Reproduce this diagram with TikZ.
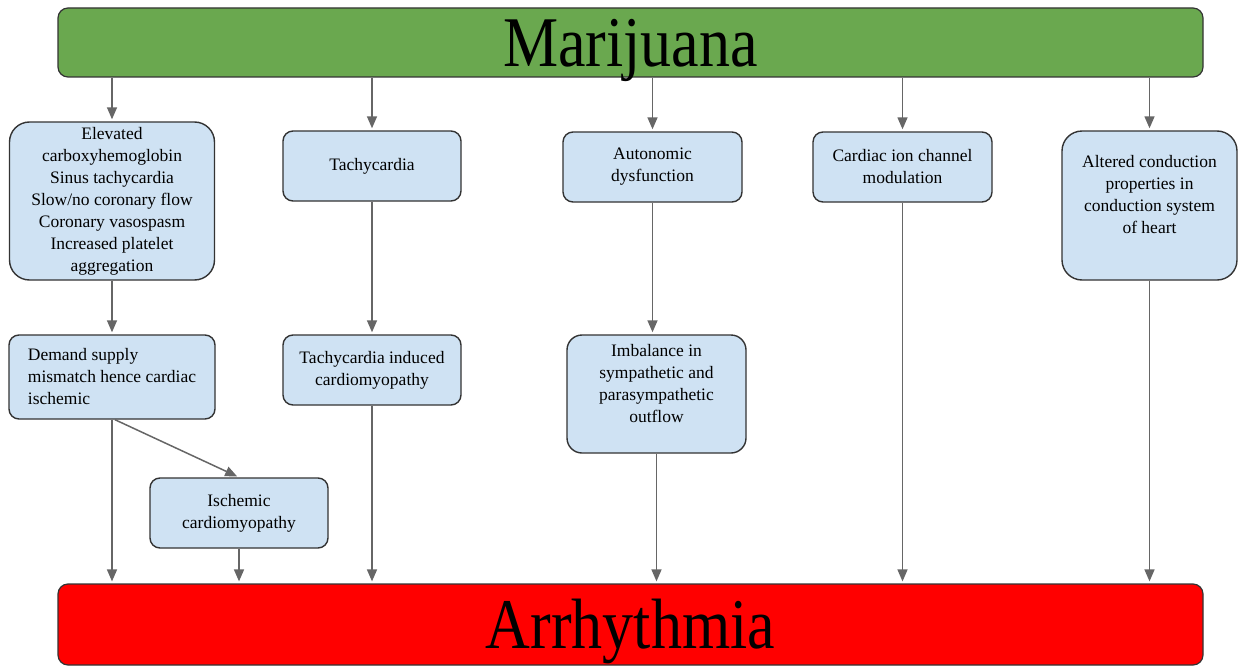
\documentclass[tikz,border=0pt]{standalone}
\usepackage{fontspec}
\usepackage{graphicx}
\setmainfont{Liberation Serif}
\usetikzlibrary{arrows.meta}

\definecolor{mjgreen}{HTML}{6AA84F}
\definecolor{arred}{HTML}{FF0000}
\definecolor{boxblue}{HTML}{CFE2F3}
\definecolor{edgegray}{HTML}{333333}
\definecolor{arrgray}{HTML}{666666}

\tikzset{
  box/.style={draw=edgegray, line width=1.4pt, fill=boxblue, rounded corners=10pt,
    inner sep=0pt, align=center, font=\fontsize{17.5}{22}\selectfont},
  bigbox/.style={draw=edgegray, line width=1.2pt, rounded corners=10pt, inner sep=0pt,
    minimum width=1145pt, text height=48pt, text depth=0pt,
    font=\fontsize{62}{70}\selectfont},
  arr/.style={draw=arrgray, line width=1.5pt, shorten >=2pt,
    -{Triangle[length=12pt,width=10pt]}}
}

\begin{document}
\begin{tikzpicture}[x=1pt,y=-1pt]
\useasboundingbox (0,0) rectangle (1246,666);
% top and bottom bars
\node[bigbox, fill=mjgreen, minimum height=69pt] (mj) at (630.5,42.5) {\scalebox{1}[1.15]{Marijuana}};
\node[bigbox, fill=arred, minimum height=81pt] (arr) at (630.5,624.5) {\scalebox{1}[1.15]{Arrhythmia}};
% first row
\node[box, minimum width=205pt, minimum height=158pt, rounded corners=20pt] (elev) at (112,201)
  {Elevated\\carboxyhemoglobin\\Sinus tachycardia\\Slow/no coronary flow\\Coronary vasospasm\\Increased platelet\\aggregation};
\node[box, minimum width=178pt, minimum height=70pt] (tachy) at (372,166) {Tachycardia};
\node[box, minimum width=179pt, minimum height=70pt] (auto) at (652.5,167) {Autonomic\\dysfunction};
\node[box, minimum width=179pt, minimum height=70pt] (ion) at (902.5,167) {Cardiac ion channel\\modulation};
\node[box, minimum width=175pt, minimum height=149pt, rounded corners=20pt] (alt) at (1149.5,205.5)
  {Altered conduction\\properties in\\conduction system\\of heart\\ \mbox{}};
% second row
\node[box, minimum width=206pt, minimum height=84pt, align=left] (dem) at (112,377)
  {Demand supply\\mismatch hence cardiac\\ischemic};
\node[box, minimum width=178pt, minimum height=70pt] (tind) at (372,370) {Tachycardia induced\\cardiomyopathy};
\node[box, minimum width=179pt, minimum height=118pt, rounded corners=15pt] (imbal) at (656.5,394)
  {Imbalance in\\sympathetic and\\parasympathetic\\outflow\\ \mbox{}};
\node[box, minimum width=178pt, minimum height=70pt] (isch) at (239,513) {Ischemic\\cardiomyopathy};
% arrows from marijuana
\foreach \n in {elev,tachy,auto,ion,alt}
  \draw[arr] (mj.south -| \n.north) -- (\n.north);
% arrows down the columns
\draw[arr] (elev) -- (dem);
\draw[arr] (tachy) -- (tind);
\draw[arr] (auto.south) -- (auto.south |- imbal.north);
\draw[arr] ([xshift=3pt]dem.south) -- (isch.north);
% arrows into arrhythmia
\foreach \n in {dem,isch,tind,imbal,ion,alt}
  \draw[arr] (\n.south) -- (\n.south |- arr.north);
\end{tikzpicture}
\end{document}
